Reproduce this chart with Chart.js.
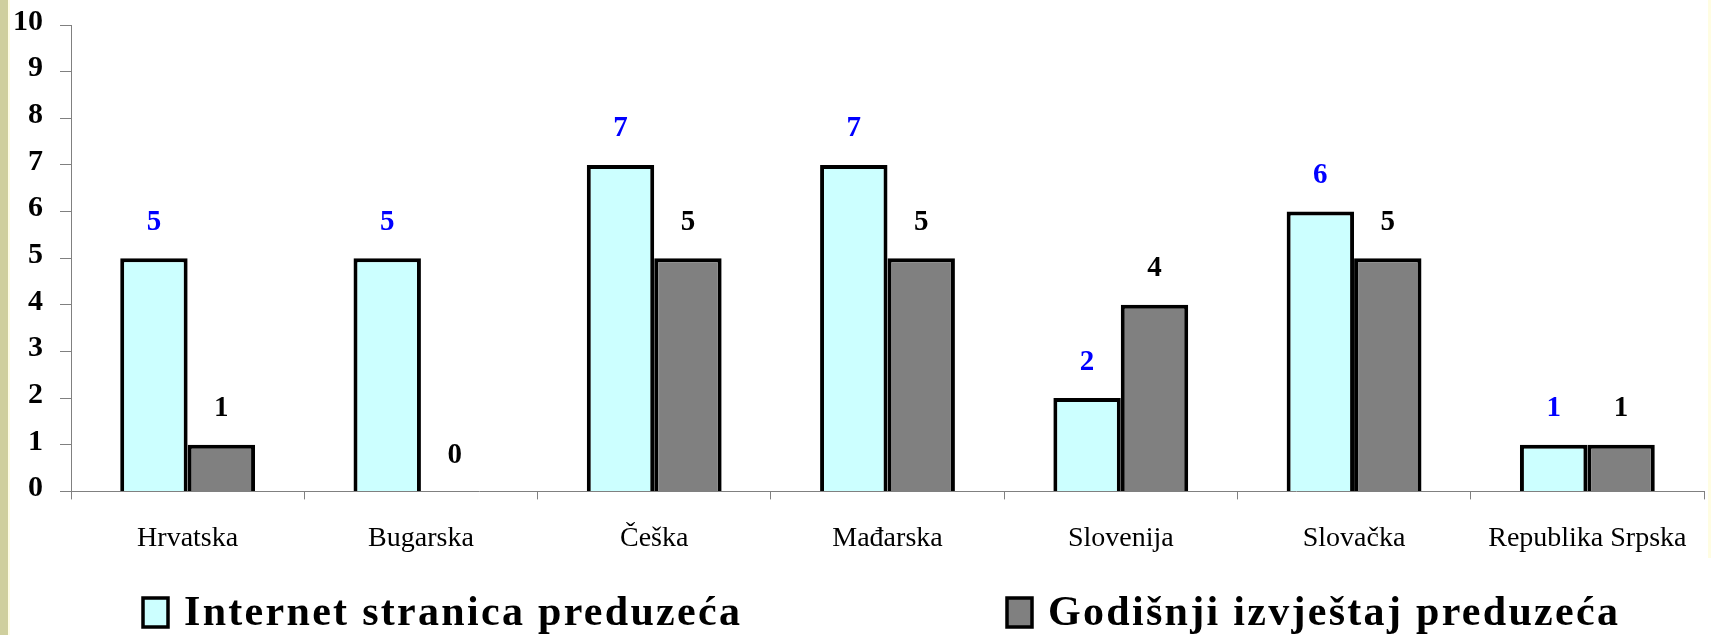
<!DOCTYPE html>
<html>
<head>
<meta charset="utf-8">
<title>Internet stranica / Godišnji izvještaj</title>
<script src="https://cdn.jsdelivr.net/npm/chart.js@4.4.0/dist/chart.umd.min.js"></script>
<style>
    html, body {
        margin: 0;
        padding: 0;
        width: 1711px;
        height: 635px;
        overflow: hidden;
    }
    body {
        background:
            linear-gradient(#fffde2, #fffde2) right top / 3px 558px no-repeat,
            linear-gradient(to right, #cfcf9e 0 8px, #fffde6 8px 10px, #ffffff 10px);
    }
    #chart {
        position: absolute;
        left: 0;
        top: 0;
    }
</style>
</head>
<body>
<canvas id="chart" width="1711" height="635"></canvas>
<script>
/* ============================================ */
/* Data                                         */
/* ============================================ */

const categories = ['Hrvatska', 'Bugarska', 'Češka', 'Mađarska', 'Slovenija', 'Slovačka', 'Republika Srpska'];
const seriesNames = ['Internet stranica preduzeća', 'Godišnji izvještaj preduzeća'];
const internetValues = [5, 5, 7, 7, 2, 6, 1];
const izvjestajValues = [1, 0, 5, 5, 4, 5, 1];
const yTicks = [0, 1, 2, 3, 4, 5, 6, 7, 8, 9, 10];

const SERIF = "'Liberation Serif', 'Times New Roman', serif";

/* ============================================ */
/* Plugins                                      */
/* ============================================ */

// value labels above each bar
const valueLabels = {
    id: 'valueLabels',
    afterDatasetsDraw(chart, args, opts) {
        const ctx = chart.ctx;
        ctx.save();
        ctx.font = `bold ${opts.size}px ${SERIF}`;
        ctx.textAlign = 'center';
        ctx.textBaseline = 'middle';
        chart.data.datasets.forEach((ds, i) => {
            const meta = chart.getDatasetMeta(i);
            ctx.fillStyle = opts.colors[i];
            meta.data.forEach((bar, j) => {
                ctx.fillText(String(ds.data[j]), bar.x, bar.y - opts.gap);
            });
        });
        ctx.restore();
    }
};

// legend drawn by hand, the built-in one can't spread items like this
const wideLegend = {
    id: 'wideLegend',
    afterDraw(chart, args, opts) {
        const ctx = chart.ctx;
        ctx.save();
        ctx.font = `bold ${opts.size}px ${SERIF}`;
        ctx.letterSpacing = opts.spacing + 'px';
        ctx.textAlign = 'left';
        ctx.textBaseline = 'alphabetic';
        chart.data.datasets.forEach((ds, i) => {
            const x = opts.xs[i];
            ctx.fillStyle = ds.backgroundColor;
            ctx.fillRect(x, opts.boxTop, opts.boxW, opts.boxH);
            ctx.lineWidth = 3.5;
            ctx.strokeStyle = '#000000';
            ctx.strokeRect(x, opts.boxTop, opts.boxW, opts.boxH);
            ctx.fillStyle = '#000000';
            ctx.fillText(ds.label, x + opts.boxW + opts.textGap, opts.baseline);
        });
        ctx.restore();
    }
};

/* ============================================ */
/* Chart                                        */
/* ============================================ */

const ctx = document.getElementById('chart').getContext('2d');

new Chart(ctx, {
    type: 'bar',
    data: {
        labels: categories,
        datasets: [
            {
                label: seriesNames[0],
                data: internetValues,
                backgroundColor: '#ccffff',
                borderColor: '#000000',
                borderWidth: 4,
                borderSkipped: 'bottom'
            },
            {
                label: seriesNames[1],
                data: izvjestajValues,
                backgroundColor: '#808080',
                borderColor: '#000000',
                borderWidth: (c) => (c.raw === 0 ? 0 : 4),
                borderSkipped: 'bottom'
            }
        ]
    },
    options: {
        responsive: false,
        animation: false,
        layout: {
            padding: { top: 25, right: 7, bottom: 58, left: 0 }
        },
        datasets: {
            bar: {
                categoryPercentage: 0.578,
                barPercentage: 1.0
            }
        },
        plugins: {
            legend: { display: false },
            tooltip: { enabled: false },
            valueLabels: {
                size: 29,
                gap: 36,
                colors: ['#0000ff', '#000000']
            },
            wideLegend: {
                size: 42,
                spacing: 2.3,
                xs: [143, 1007],
                boxTop: 598,
                boxW: 25,
                boxH: 29,
                textGap: 16,
                baseline: 625
            }
        },
        scales: {
            x: {
                grid: {
                    offset: true,
                    drawOnChartArea: false,
                    drawTicks: true,
                    tickLength: 8,
                    color: '#808080'
                },
                border: { display: true, color: '#808080', width: 1 },
                ticks: {
                    color: '#000000',
                    padding: 22,
                    font: { family: SERIF, size: 28 }
                }
            },
            y: {
                min: 0,
                max: 10,
                afterBuildTicks: (scale) => {
                    scale.ticks = yTicks.map(v => ({ value: v }));
                },
                afterFit: (scale) => {
                    scale.width = 71;
                    // let the layout padding alone decide where 10 sits
                    scale.paddingTop = 0;
                    scale.paddingBottom = 0;
                },
                grid: {
                    drawOnChartArea: false,
                    drawTicks: true,
                    tickLength: 11,
                    color: '#808080'
                },
                border: { display: true, color: '#808080', width: 1 },
                ticks: {
                    color: '#000000',
                    padding: 17,
                    labelOffset: -3,
                    font: { family: SERIF, size: 30, weight: 'bold' }
                }
            }
        }
    },
    plugins: [valueLabels, wideLegend]
});
</script>
</body>
</html>
